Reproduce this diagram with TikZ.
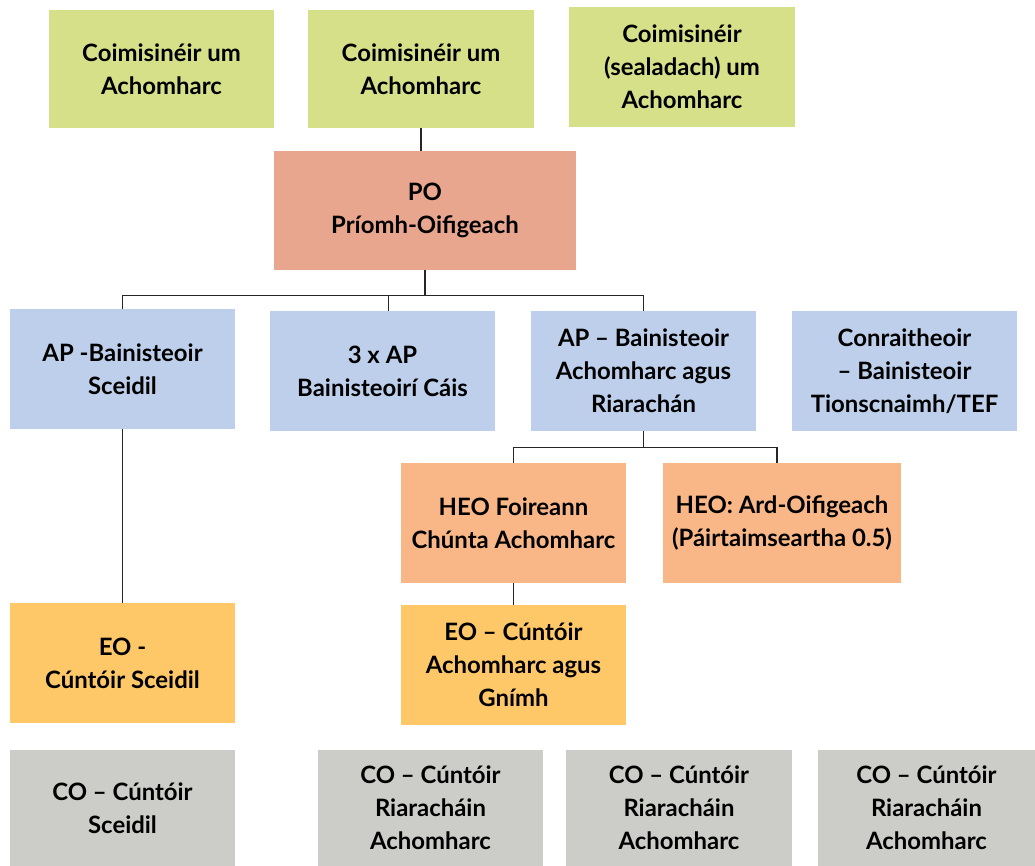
\documentclass[tikz,border=0pt]{standalone}
\usepackage{fontspec}
\setmainfont{Lato}
\usepackage{tikz}
\usetikzlibrary{calc,positioning}

\definecolor{verde}{HTML}{D6E089}
\definecolor{salmon}{HTML}{E9A68F}
\definecolor{azul}{HTML}{BDCFEA}
\definecolor{naranja}{HTML}{F9B787}
\definecolor{amarillo}{HTML}{FEC868}
\definecolor{gris}{HTML}{CCCDC8}

\tikzset{
	caja/.style={minimum width=5.625cm, minimum height=2.95cm, inner sep=0pt, align=center,
		font=\fontsize{17}{23.4}\selectfont\bfseries},
	comcaja/.style={caja, fill=verde},
	pocaja/.style={caja, fill=salmon},
	apcaja/.style={caja, fill=azul},
	heocaja/.style={caja, fill=naranja},
	eocaja/.style={caja, fill=amarillo},
	cocaja/.style={caja, fill=gris},
	linea/.style={draw=black!85, line width=0.8pt}
}

\begin{document}
\begin{tikzpicture}[x=0.025cm, y=-0.025cm]
	\useasboundingbox (0,0) rectangle (1035,866);

% comisionados
	\node[comcaja] (com1) at (161.5,69) {Coimisinéir um\\Achomharc};
	\node[comcaja] (com2) at (421,69) {Coimisinéir um\\Achomharc};
	\node[comcaja, minimum width=5.65cm, minimum height=3cm] (com3) at (682,67) {Coimisinéir\\(sealadach) um\\Achomharc};

% jefe
	\node[pocaja, minimum width=7.55cm] (po) at (425,210.5) {PO\\Príomh-Oifigeach};

% nivel AP
	\node[apcaja, minimum height=3cm] (ap1) at (122.5,369) {AP -Bainisteoir\\Sceidil};
	\node[apcaja, minimum height=3cm] (ap2) at (382.5,371) {3 x AP\\Bainisteoirí Cáis};
	\node[apcaja, minimum height=3cm] (ap3) at (643.5,371) {AP – Bainisteoir\\Achomharc agus\\Riarachán};
	\node[apcaja, minimum height=3cm] (con) at (904.5,371) {Conraitheoir\\– Bainisteoir\\Tionscnaimh/TEF};

% nivel HEO
	\node[heocaja, minimum height=3cm] (heo1) at (513.5,523) {HEO Foireann\\Chúnta Achomharc};
	\node[heocaja, minimum height=3cm, minimum width=5.95cm] (heo2) at (782,523) {HEO: Ard-Oifigeach\\(Páirtaimseartha 0.5)};

% nivel EO
	\node[eocaja, minimum height=3cm] (eo1) at (122.5,663) {EO -\\Cúntóir Sceidil};
	\node[eocaja, minimum height=3cm] (eo2) at (513.5,665) {EO – Cúntóir\\Achomharc agus\\Gnímh};

% nivel CO
	\node[cocaja, minimum height=2.9cm] (co1) at (122.5,808) {CO – Cúntóir\\Sceidil};
	\node[cocaja, minimum height=2.9cm] (co2) at (430.5,808) {CO – Cúntóir\\Riaracháin\\Achomharc};
	\node[cocaja, minimum height=2.9cm] (co3) at (679,808) {CO – Cúntóir\\Riaracháin\\Achomharc};
	\node[cocaja, minimum height=2.9cm, minimum width=5.425cm] (co4) at (926.5,808) {CO – Cúntóir\\Riaracháin\\Achomharc};

% conexiones
	\coordinate (bus1) at ($(po.south)+(0,26)$);
	\coordinate (bus2) at ($(ap3.south)+(0,16)$);
	\draw[linea] (com2.south) -- (com2.south |- po.north);
	\draw[linea] (po.south) -- (bus1);
	\draw[linea] (ap1.north) |- (bus1) -| (ap3.north);
	\draw[linea] ($(ap2.north)+(6,0)$) -- ($(ap2.north |- bus1)+(6,0)$);
	\draw[linea] (ap3.south) -- (bus2);
	\draw[linea] (heo1.north) |- (bus2) -| ($(heo2.north)+(-5,0)$);
	\draw[linea] (ap1.south) -- (eo1.north);
	\draw[linea] (heo1.south) -- (eo2.north);
\end{tikzpicture}
\end{document}
